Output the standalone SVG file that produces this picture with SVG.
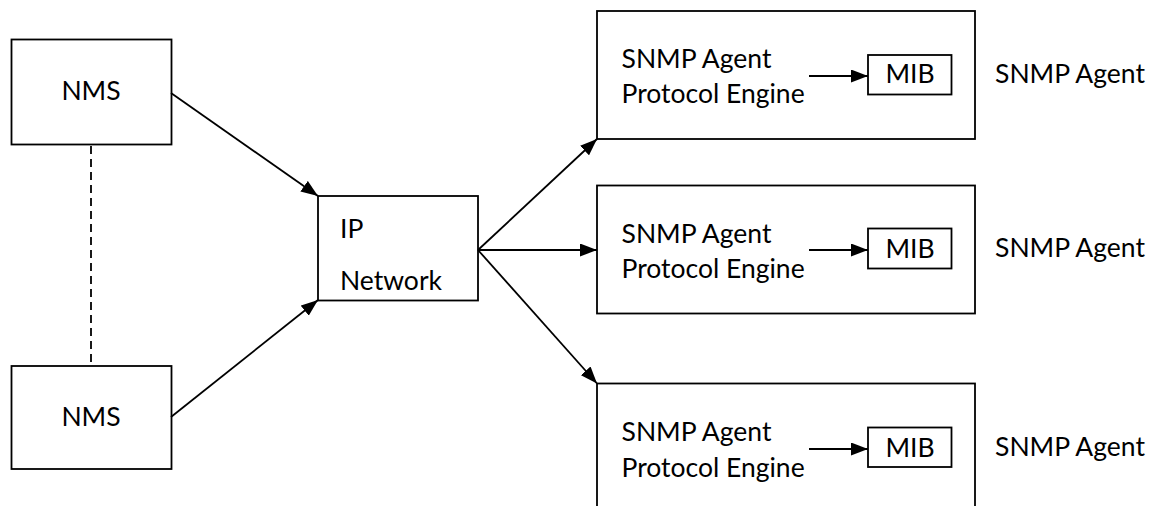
<svg xmlns="http://www.w3.org/2000/svg" width="1154" height="506" viewBox="0 0 1154 506">
<style>
.box{fill:#fff;stroke:#000;stroke-width:1.8}
.t{font-family:"Lato","Liberation Sans",sans-serif;font-size:26.5px;fill:#000}
.c{text-anchor:middle}
.ln{stroke:#000;stroke-width:1.8;fill:none}
</style>
<defs>
<marker id="ah" viewBox="0 0 17 13" refX="17" refY="6.5" markerWidth="17" markerHeight="13" markerUnits="userSpaceOnUse" orient="auto">
<path d="M0,0 L17,6.5 L0,13 Z" fill="#000"/>
</marker>
</defs>
<g id="nms1">
<rect class="box" x="11.5" y="39.5" width="160" height="105"/>
<text class="t c" x="91" y="100">NMS</text>
</g>
<g id="nms2">
<rect class="box" x="11.5" y="366" width="160" height="103"/>
<text class="t c" x="91" y="426">NMS</text>
</g>
<g id="ipnet">
<rect class="box" x="318" y="196" width="160" height="104.5"/>
<text class="t" x="340" y="238">IP</text>
<text class="t" x="340" y="290">Network</text>
</g>
<g id="agent1">
<rect class="box" x="597" y="11" width="378" height="128"/>
<text class="t" x="621.5" y="68">SNMP Agent</text>
<text class="t" x="621.5" y="103">Protocol Engine</text>
<g id="mib1">
<rect class="box" x="868" y="55" width="83.5" height="39.5"/>
<text class="t c" x="910" y="83">MIB</text>
</g>
<text class="t" x="995" y="83">SNMP Agent</text>
</g>
<g id="agent2">
<rect class="box" x="597" y="185.5" width="378" height="128"/>
<text class="t" x="621.5" y="243">SNMP Agent</text>
<text class="t" x="621.5" y="278">Protocol Engine</text>
<g id="mib2">
<rect class="box" x="868" y="228.5" width="83.5" height="40"/>
<text class="t c" x="910" y="258">MIB</text>
</g>
<text class="t" x="995" y="257">SNMP Agent</text>
</g>
<g id="agent3">
<rect class="box" x="597" y="383.5" width="378" height="140"/>
<text class="t" x="621.5" y="441">SNMP Agent</text>
<text class="t" x="621.5" y="476.5">Protocol Engine</text>
<g id="mib3">
<rect class="box" x="868" y="427.5" width="83.5" height="39.5"/>
<text class="t c" x="910" y="456.5">MIB</text>
</g>
<text class="t" x="995" y="456">SNMP Agent</text>
</g>
<g id="connectors">
<line class="ln" x1="91" y1="146" x2="91" y2="366" stroke-dasharray="8,5"/>
<line class="ln" x1="171" y1="93" x2="318" y2="196" marker-end="url(#ah)"/>
<line class="ln" x1="171" y1="417" x2="318" y2="300" marker-end="url(#ah)"/>
<line class="ln" x1="478" y1="250" x2="597" y2="139" marker-end="url(#ah)"/>
<line class="ln" x1="478" y1="250" x2="597" y2="250" marker-end="url(#ah)"/>
<line class="ln" x1="478" y1="250" x2="597" y2="383.5" marker-end="url(#ah)"/>
<line class="ln" x1="809" y1="76" x2="868" y2="76" marker-end="url(#ah)"/>
<line class="ln" x1="809" y1="250" x2="868" y2="250" marker-end="url(#ah)"/>
<line class="ln" x1="809" y1="449" x2="868" y2="449" marker-end="url(#ah)"/>
</g>
</svg>
